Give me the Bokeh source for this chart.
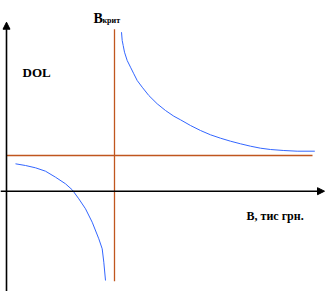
from bokeh.plotting import figure
from bokeh.models import Range1d, Arrow, NormalHead, Label
from bokeh.embed import file_html
from bokeh.resources import INLINE

# Upper branch of DOL curve (B > B_crit)
b_upper = [11.5, 11.57, 11.67, 11.8, 12.07, 12.4, 12.73, 13.07, 13.57, 14.23, 15.07,
           15.9, 16.73, 17.4, 18.4, 19.4, 20.4, 21.4, 22.4, 23.4, 24.4, 25.4, 26.4,
           27.73, 29.07, 30.83]
dol_upper = [15.9, 15.07, 14.57, 13.9, 13.07, 12.4, 11.74, 11.07, 10.4, 9.57, 8.74,
             8.07, 7.5, 7.14, 6.57, 6.07, 5.64, 5.3, 5.0, 4.74, 4.5, 4.3, 4.17,
             4.07, 4.0, 4.0]

# Lower branch of DOL curve (B < B_crit)
b_lower = [0.9, 1.9, 2.9, 3.9, 4.9, 5.9, 6.57, 7.23, 7.9, 8.57, 9.23, 9.57, 9.73, 9.9]
dol_lower = [2.74, 2.57, 2.34, 2.0, 1.4, 0.74, 0.14, -0.76, -1.76, -3.1, -4.76,
             -5.76, -7.1, -8.93]

# Asymptotes
b_crit = 10.8
dol_asym = 3.57

x_min, x_max = -0.6, 32.6
y_min, y_max = -10.03, 19.07

p = figure(width=332, height=291, output_backend="svg", toolbar_location=None,
           x_range=Range1d(x_min, x_max), y_range=Range1d(y_min, y_max),
           x_axis_type=None, y_axis_type=None, min_border=0)
p.grid.visible = False
p.outline_line_color = None
p.background_fill_color = "white"
p.border_fill_color = "white"

orange = "#C0561E"
blue = "#3366FF"

# asymptote lines
p.line([b_crit, b_crit], [-9.0, 16.2], line_color=orange, line_width=1.3)
p.line([0, 30.6], [dol_asym, dol_asym], line_color=orange, line_width=1.3)

# curves
p.line(b_upper, dol_upper, line_color=blue, line_width=1)
p.line(b_lower, dol_lower, line_color=blue, line_width=1)

# axes with arrows
p.add_layout(Arrow(end=NormalHead(size=7, fill_color="black", line_color="black"),
                   x_start=0, y_start=y_min, x_end=0, y_end=16.9,
                   line_color="black", line_width=1.6))
p.add_layout(Arrow(end=NormalHead(size=7, fill_color="black", line_color="black"),
                   x_start=x_min, y_start=0, x_end=31.8, y_end=0,
                   line_color="black", line_width=1.6))

font = "'Liberation Serif', 'DejaVu Serif', serif"
p.add_layout(Label(x=1.6, y=11.9, text="DOL", text_font=font, text_font_size="13px",
                   text_font_style="bold", text_color="black", text_baseline="alphabetic"))
p.add_layout(Label(x=8.7, y=17.3, text="B", text_font=font, text_font_size="14px",
                   text_font_style="bold", text_color="black", text_baseline="alphabetic"))
p.add_layout(Label(x=9.6, y=17.05, text="крит", text_font=font, text_font_size="8px",
                   text_font_style="bold", text_color="black", text_baseline="alphabetic"))
p.add_layout(Label(x=24.0, y=-2.49, text="B, тис грн.", text_font=font, text_font_size="12px",
                   text_font_style="bold", text_color="black", text_baseline="alphabetic"))

open("out.html", "w").write(file_html(p, INLINE))
